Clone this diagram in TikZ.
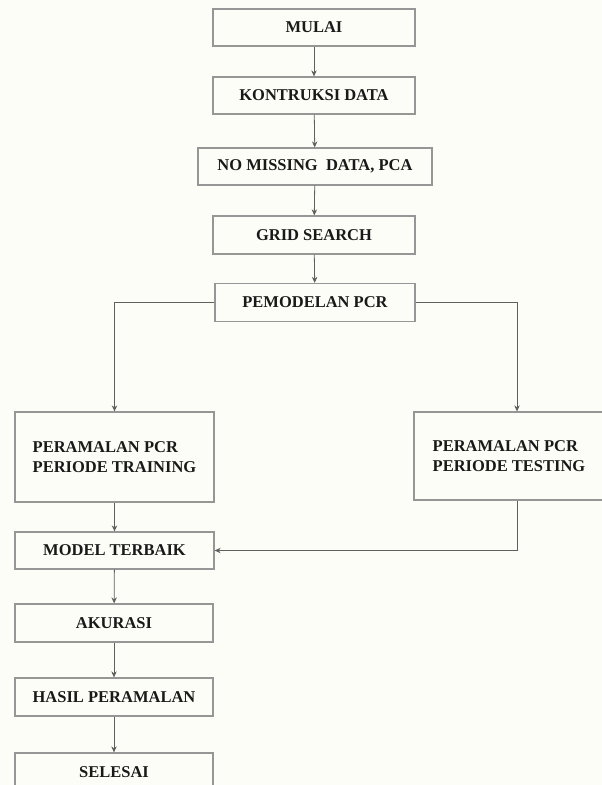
\documentclass[tikz,border=0pt]{standalone}
\usepackage{fontspec}
\setmainfont{Liberation Serif}
\usetikzlibrary{arrows.meta,calc}
\definecolor{bg}{RGB}{253,253,247}
\definecolor{edge}{RGB}{150,150,150}
\definecolor{ln}{RGB}{95,95,95}
\definecolor{txt}{RGB}{25,25,25}
\begin{document}
\begin{tikzpicture}[x=1pt,y=-1pt,
  box/.style={draw=edge, line width=1.3pt, fill=bg, minimum height=37pt, inner sep=0pt,
    font=\fontsize{16.5}{19.5}\selectfont\bfseries, text=txt},
  arr/.style={draw=ln, line width=0.8pt, -{Stealth[length=6pt,width=5.5pt]}}]
\fill[bg] (0,0) rectangle (602,785);
\useasboundingbox (0,0) rectangle (602,785);
\node[box, minimum width=202pt] (start) at (314,27.5) {MULAI};
\node[box, minimum width=202pt] (kon) at (314,95.5) {KONTRUKSI DATA};
\node[box, minimum width=234pt] (nomiss) at (315,166.5) {NO MISSING~ DATA, PCA};
\node[box, minimum width=202pt, minimum height=38pt] (grid) at (314,235) {GRID SEARCH};
\node[box, minimum width=200pt, minimum height=38pt] (pem) at (315,302.5) {PEMODELAN PCR};
\node[box, minimum width=199pt, minimum height=90pt, align=left] (train) at (114.5,457) {PERAMALAN PCR\\PERIODE TRAINING};
\node[box, minimum width=190pt, minimum height=88pt, align=left] (test) at (509,456) {PERAMALAN PCR\\PERIODE TESTING};
\node[box, minimum width=199pt] (model) at (114.5,550.5) {MODEL TERBAIK};
\node[box, minimum width=198pt, minimum height=38pt] (akurasi) at (114,623) {AKURASI};
\node[box, minimum width=198pt, minimum height=38pt] (hasil) at (114,697) {HASIL PERAMALAN};
\node[box, minimum width=198pt, minimum height=38pt] (selesai) at (114,772) {SELESAI};
\coordinate (tr) at (517,302.5);
\draw[arr] (start) -- (kon);
\draw[arr] (kon) -- (nomiss);
\draw[arr] (nomiss) -- (grid);
\draw[arr] (grid) -- (pem);
\draw[arr] (pem.west) -| (train.north);
\draw[arr] (pem.east) -- (tr) -- (tr |- test.north);
\draw[arr] (train) -- (model);
\draw[arr] (test.south -| tr) |- (model.east);
\draw[arr] (model) -- (akurasi);
\draw[arr] (akurasi) -- (hasil);
\draw[arr] (hasil) -- (selesai);
\end{tikzpicture}
\end{document}
